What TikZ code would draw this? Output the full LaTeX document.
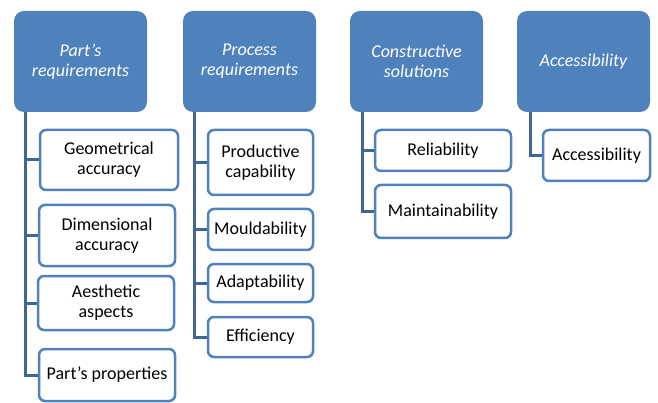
\documentclass[tikz,border=0pt]{standalone}
\usepackage{fontspec}
\setmainfont{Carlito}
\usepackage{tikz}
\definecolor{headblue}{RGB}{79,129,189}
\definecolor{linkblue}{RGB}{64,102,152}

\begin{document}
\begin{tikzpicture}[x=1pt, y=-1pt]
  \tikzset{every node/.style={font=\fontsize{18}{20}\selectfont, align=center, inner sep=0pt},
           head/.style={fill=headblue, rounded corners=10pt, minimum width=133pt,
                        minimum height=101pt, text=white, font=\fontsize{18}{20}\selectfont\itshape},
           leaf/.style={draw=headblue, line width=2.5pt, fill=white, rounded corners=6pt},
           link/.style={draw=linkblue, line width=3pt}}
  \useasboundingbox (0,0) rectangle (658,403);
  \node[head] (partreq) at (80.5,61.5)  {Part's\\requirements};
  \node[head] (procreq) at (249.5,61.5) {Process\\requirements};
  \node[head] (consol)  at (416.5,61.5) {Constructive\\solutions};
  \node[head] (access)  at (583.5,61.5) {Accessibility};

  \node[leaf, minimum width=138pt, minimum height=60pt] (geom)  at (109,160)   {Geometrical\\accuracy};
  \node[leaf, minimum width=136pt, minimum height=61pt] (dim)   at (107,235.5) {Dimensional\\accuracy};
  \node[leaf, minimum width=136pt, minimum height=54pt] (aest)  at (106,303)   {Aesthetic\\aspects};
  \node[leaf, minimum width=136pt, minimum height=52pt] (props) at (107,375)   {Part's properties};

  \node[leaf, minimum width=105pt, minimum height=65pt] (prod)  at (260.5,162.5) {Productive\\capability};
  \node[leaf, minimum width=105pt, minimum height=41pt] (mould) at (260.5,229.5) {Mouldability};
  \node[leaf, minimum width=105pt, minimum height=38pt] (adapt) at (260.5,283)   {Adaptability};
  \node[leaf, minimum width=105pt, minimum height=40pt] (eff)   at (260.5,337)   {Efficiency};

  \node[leaf, minimum width=136pt, minimum height=41pt] (rel)   at (443,150.5) {Reliability};
  \node[leaf, minimum width=136pt, minimum height=53pt] (maint) at (443,211.5) {Maintainability};

  \node[leaf, minimum width=107pt, minimum height=51pt] (accitem) at (596.5,155.5) {Accessibility};

  \foreach \leafnode in {geom,dim,aest,props}
    \draw[link] ([xshift=12pt]partreq.south west) |- (\leafnode.west);
  \foreach \leafnode in {prod,mould,adapt,eff}
    \draw[link] ([xshift=12pt]procreq.south west) |- (\leafnode.west);
  \foreach \leafnode in {rel,maint}
    \draw[link] ([xshift=13pt]consol.south west) |- (\leafnode.west);
  \draw[link] ([xshift=14pt]access.south west) |- (accitem.west);
\end{tikzpicture}
\end{document}
